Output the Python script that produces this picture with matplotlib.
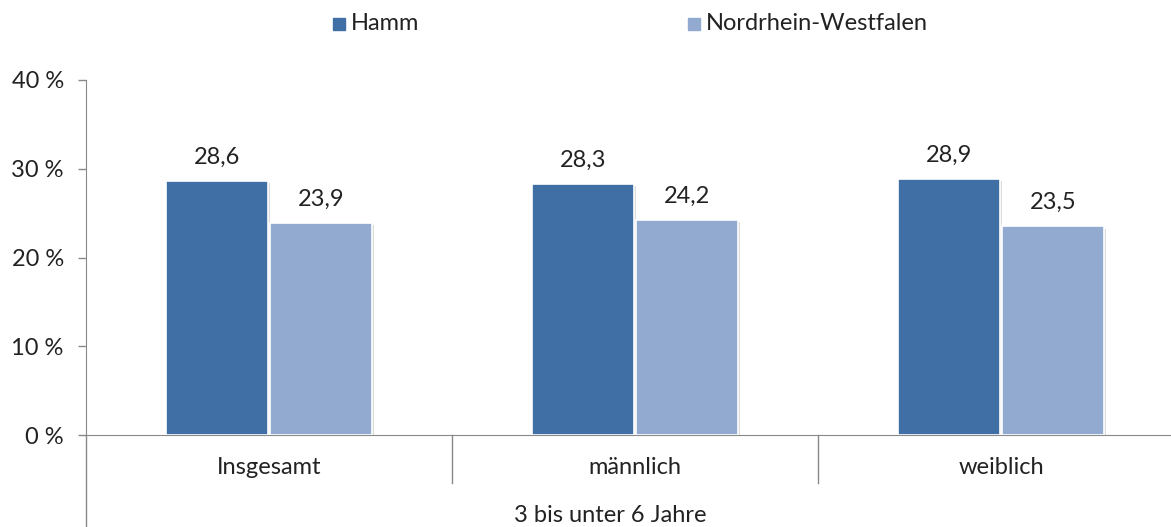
import matplotlib.pyplot as plt
import matplotlib.patheffects as pe
import matplotlib.transforms as mtransforms
import numpy as np

# Daten
kategorien = ["Insgesamt", "männlich", "weiblich"]
hamm = [28.6, 28.3, 28.9]
nrw = [23.9, 24.2, 23.5]
y_ticks = [0, 10, 20, 30, 40]
y_labels = ["0 %", "10 %", "20 %", "30 %", "40 %"]
gruppe = "3 bis unter 6 Jahre"

FARBE_HAMM = "#3F6FA4"
FARBE_NRW = "#92AAD0"
GRAU = "#898989"
TEXT = "#222222"
FS = 17

plt.rcParams['font.family'] = ['Lato', 'DejaVu Sans']

W, H = 1171, 527
fig = plt.figure(figsize=(W / 100, H / 100), dpi=100)
# Plotbereich in Pixeln
x0, y0, y_top = 86, 435, 80
breite = 3 * 366
ax = fig.add_axes([x0 / W, (H - y0) / H, breite / W, (y0 - y_top) / H])

x = np.arange(len(kategorien))
bw = 0.28
schatten = [pe.withSimplePatchShadow(offset=(1.5, -1.5), shadow_rgbFace='#999999', alpha=0.35)]
b1 = ax.bar(x - 0.142, hamm, bw, color=FARBE_HAMM, edgecolor='white', linewidth=1.2,
            path_effects=schatten, zorder=3)
b2 = ax.bar(x + 0.142, nrw, bw, color=FARBE_NRW, edgecolor='white', linewidth=1.2,
            path_effects=schatten, zorder=3)

for bars, werte in ((b1, hamm), (b2, nrw)):
    for rect, v in zip(bars, werte):
        ax.annotate(f"{v:.1f}".replace(".", ","),
                    (rect.get_x() + rect.get_width() / 2, v),
                    xytext=(0, 17), textcoords='offset points',
                    ha='center', va='center', fontsize=FS, color=TEXT)

ax.set_xlim(-0.5, 2.5)
ax.set_ylim(0, 40)
ax.set_yticks(y_ticks)
ax.set_yticklabels(y_labels, fontsize=FS, color=TEXT)
ax.tick_params(axis='y', direction='out', length=6, color=GRAU, width=1, pad=10)
ax.set_xticks([])

for s in ['top', 'right']:
    ax.spines[s].set_visible(False)
ax.spines['left'].set_color(GRAU)
ax.spines['bottom'].set_color(GRAU)

# Kategorie-Achse unterhalb
trans = mtransforms.blended_transform_factory(ax.transData, ax.transAxes)
h_ax = y0 - y_top
for xs in [0.5, 1.5]:
    ax.plot([xs, xs], [0, -48 / h_ax], transform=trans, color=GRAU, lw=1, clip_on=False)
ax.plot([-0.5, -0.5], [0, -92 / h_ax], transform=trans, color=GRAU, lw=1, clip_on=False)
for xi, k in zip(x, kategorien):
    ax.text(xi, -33 / h_ax, k, transform=trans, ha='center', va='center',
            fontsize=FS, color=TEXT)
fig.text(610 / W, 12 / H, gruppe, ha='center', va='center', fontsize=FS, color=TEXT)

# Legende
for px, farbe, txt in ((333, FARBE_HAMM, "Hamm"), (688, FARBE_NRW, "Nordrhein-Westfalen")):
    fig.patches.append(plt.Rectangle((px / W, (H - 30) / H), 12 / W, 12 / H,
                                     transform=fig.transFigure, color=farbe, figure=fig))
    fig.text((px + 18) / W, (H - 24) / H, txt, ha='left', va='center',
             fontsize=FS, color=TEXT)

fig.savefig("out.png", dpi=100)
